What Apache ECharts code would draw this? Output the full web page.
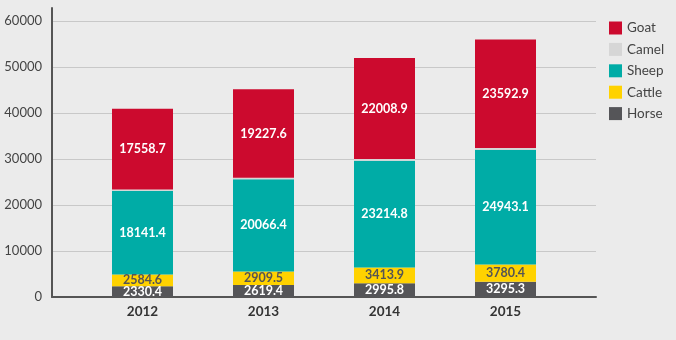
<!DOCTYPE html>
<html>
<head>
<meta charset="utf-8">
<script src="https://cdn.jsdelivr.net/npm/echarts@6/dist/echarts.min.js"></script>
<style>
  html, body { margin: 0; padding: 0; background: #ebebeb; }
  #chart { width: 676px; height: 340px; }
</style>
</head>
<body>
<div id="chart"></div>
<script>
// data
const years = ["2012", "2013", "2014", "2015"];
const horse = [2330.4, 2619.4, 2995.8, 3295.3];
const cattle = [2584.6, 2909.5, 3413.9, 3780.4];
const sheep = [18141.4, 20066.4, 23214.8, 24943.1];
const camel = [305.8, 321.5, 349.3, 368.0];
const goat = [17558.7, 19227.6, 22008.9, 23592.9];
const yTicks = [0, 10000, 20000, 30000, 40000, 50000, 60000];

const font = "Lato";
const chart = echarts.init(document.getElementById("chart"));

function segment(name, data, color, labelColor) {
  return {
    name: name,
    type: "bar",
    stack: "total",
    xAxisIndex: 2,
    yAxisIndex: 2,
    barWidth: 61,
    data: data,
    itemStyle: { color: color },
    label: {
      show: labelColor != null,
      position: "inside",
      color: labelColor,
      fontFamily: font,
      fontWeight: "bold",
      fontSize: 12.5,
    },
    emphasis: { disabled: true },
  };
}

chart.setOption({
  backgroundColor: "#ebebeb",
  animation: false,
  textStyle: { fontFamily: font },
  legend: {
    orient: "vertical",
    left: 609,
    top: 21,
    padding: 0,
    itemWidth: 13,
    itemHeight: 13,
    itemGap: 7.4,
    icon: "rect",
    data: ["Goat", "Camel", "Sheep", "Cattle", "Horse"],
    textStyle: { fontSize: 13.5, lineHeight: 13, color: "#444", fontFamily: font },
  },
  grid: [
    // axis lines (y axis line runs a bit above the top tick)
    { left: 52, right: 80, top: 8, bottom: 43 },
    // y labels and grid lines
    { left: 52, right: 80, top: 21, bottom: 43 },
    // bars
    { left: 82, right: 110, top: 21, bottom: 43 },
  ],
  xAxis: [
    {
      gridIndex: 0,
      type: "category",
      data: years,
      axisLine: { show: true, lineStyle: { color: "#555", width: 2 } },
      axisTick: { show: false },
      axisLabel: { show: false },
    },
    {
      gridIndex: 1,
      type: "category",
      data: years,
      show: false,
    },
    {
      gridIndex: 2,
      type: "category",
      data: years,
      axisLine: { show: false },
      axisTick: { show: false },
      axisLabel: {
        margin: 8,
        color: "#333",
        fontSize: 13.5,
        fontWeight: "bold",
        fontFamily: font,
      },
    },
  ],
  yAxis: [
    {
      gridIndex: 0,
      type: "value",
      min: 0,
      max: 62800,
      axisLine: { show: true, lineStyle: { color: "#555", width: 2 } },
      axisTick: { show: false },
      axisLabel: { show: false },
      splitLine: { show: false },
    },
    {
      gridIndex: 1,
      type: "value",
      min: yTicks[0],
      max: yTicks[yTicks.length - 1],
      interval: yTicks[1] - yTicks[0],
      axisLine: { show: false },
      axisTick: { show: false },
      axisLabel: {
        margin: 10,
        color: "#444",
        fontSize: 13,
        fontFamily: font,
        formatter: (v) => String(v),
      },
      splitLine: { lineStyle: { color: "#c8c8c8", width: 1 } },
    },
    {
      gridIndex: 2,
      type: "value",
      min: yTicks[0],
      max: yTicks[yTicks.length - 1],
      show: false,
    },
  ],
  series: [
    segment("Horse", horse, "#555558", "#fff"),
    segment("Cattle", cattle, "#ffd200", "#555"),
    segment("Sheep", sheep, "#00aca6", "#fff"),
    segment("Camel", camel, "#d6d6d6", null),
    segment("Goat", goat, "#cc0a2e", "#fff"),
  ],
});
</script>
</body>
</html>
